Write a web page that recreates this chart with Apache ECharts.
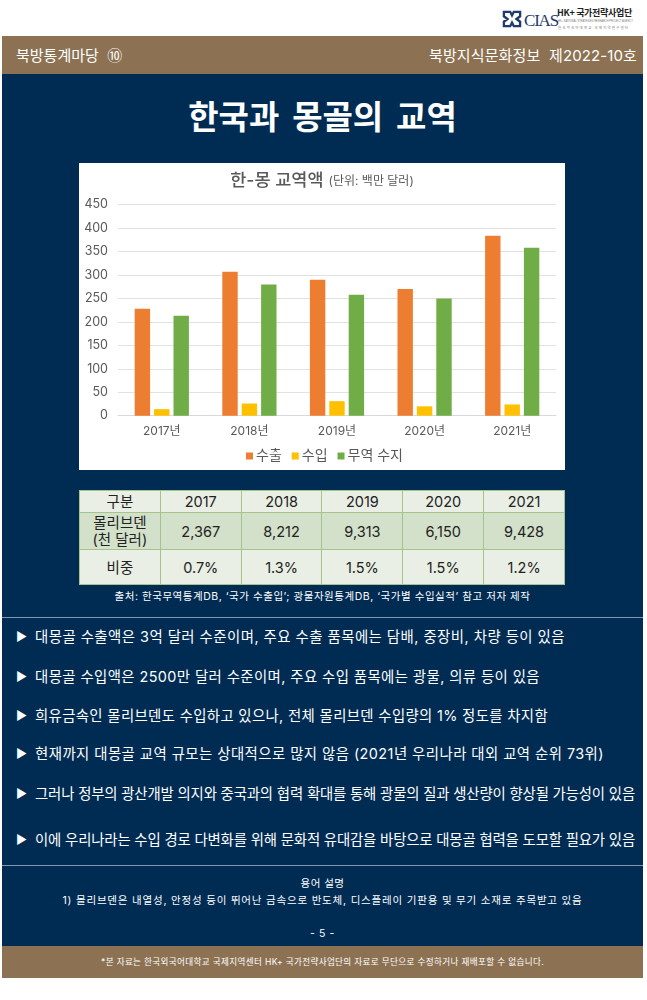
<!DOCTYPE html>
<html>
<head>
<meta charset="utf-8">
<script src="https://cdn.jsdelivr.net/npm/echarts@6/dist/echarts.min.js"></script>
<style>
html, body { margin: 0; padding: 0; background: #fff; }
body { width: 647px; height: 1000px; position: relative; overflow: hidden; font-family: Inter, "Noto Sans CJK KR", sans-serif; }
.abs { position: absolute; white-space: nowrap; }
.center { left: 0; width: 645px; text-align: center; color: #fff; }
.band { position: absolute; left: 2px; width: 641px; background: #8c7253; }
#navy { position: absolute; left: 2px; top: 74px; width: 641px; height: 872px; background: #002c54; }
.rule { position: absolute; left: 2px; width: 641px; height: 1px; background: #7f98ad; }
.point { position: absolute; left: 35px; white-space: nowrap; color: #fff; font-size: 14.4px; line-height: 20px; }
.arrow { position: absolute; left: 16px; color: #fff; font-size: 12px; line-height: 20px; }
#chart { position: absolute; left: 79px; top: 163px; width: 486px; height: 307px; }
#tbl { position: absolute; left: 79px; top: 490px; width: 486px; height: 94px; border-collapse: collapse; table-layout: fixed; font-size: 14.5px; color: #222; text-align: center; }
#tbl td { border: 1.5px solid #a5c48c; padding: 0; line-height: 17px; background: #e9efe5; }
#tbl tr.mid td { background: #d3e0ca; }
</style>
</head>
<body>
<svg class="abs" style="left:502px;top:10px" width="20" height="18" viewBox="0 0 22 20">
  <path d="M2 2h7l2 4 2-4h7v5l-4 3 4 3v5h-7l-2-4-2 4H2v-5l4-3-4-3z" fill="none" stroke="#1f3a6e" stroke-width="2.6"/>
</svg>
<div class="abs" style="left:524px;top:12px;font:17px/18px 'Liberation Serif';letter-spacing:-1.2px;color:#1f3a6e">CIAS</div>
<div class="abs" style="left:557px;top:7px;font:bold 9px/12px 'Noto Sans CJK KR';letter-spacing:-.3px;color:#222">HK+ 국가전략사업단</div>
<div class="abs" style="left:558px;top:20px;font:2.6px/4px 'Liberation Sans';color:#777">HK+ NATIONAL STRATEGIES RESEARCH PROJECT AGENCY</div>
<div class="abs" style="left:558px;top:25px;font:3.4px/5px 'Noto Sans CJK KR';letter-spacing:1.2px;color:#777">한국외국어대학교 국제지역연구센터</div>

<div class="band" style="top:36px;height:38px"></div>
<div class="abs" style="left:16px;top:45px;font-size:15px;line-height:22px;color:#fff">북방통계마당 &nbsp;⑩</div>
<div class="abs" style="right:10px;top:45px;font-size:15px;line-height:22px;color:#fff" data-w="208">북방지식문화정보 &nbsp;제2022-10호</div>

<div id="navy"></div>
<div class="abs center" style="top:94px;font-size:33px;line-height:46px;font-weight:700;word-spacing:5px">한국과 몽골의 교역</div>

<div id="chart"></div>
<table id="tbl"></table>
<div class="abs center" style="top:588px;font-size:10.5px;line-height:18px" data-w="416">출처: 한국무역통계DB, ‘국가 수출입’; 광물자원통계DB, ‘국가별 수입실적’ 참고 저자 제작</div>

<div class="rule" style="top:617px"></div>
<div id="points"></div>
<div class="rule" style="top:865px"></div>

<div class="abs center" style="top:875px;font-size:10.5px;line-height:18px" data-w="44">용어 설명</div>
<div class="abs center" style="top:892px;font-size:10.5px;line-height:18px" data-w="520">1) 몰리브덴은 내열성, 안정성 등이 뛰어난 금속으로 반도체, 디스플레이 기판용 및 무기 소재로 주목받고 있음</div>
<div class="abs center" style="top:925px;font-size:10.5px;line-height:18px" data-w="25">- 5 -</div>

<div class="band" style="top:946px;height:32px"></div>
<div class="abs center" style="top:953px;font-size:8.6px;line-height:18px" data-w="443">*본 자료는 한국외국어대학교 국제지역센터 HK+ 국가전략사업단의 자료로 무단으로 수정하거나 재배포할 수 없습니다.</div>

<script>
// 차트 데이터
const years = ['2017년', '2018년', '2019년', '2020년', '2021년'];
const exportsKr = [228, 307, 290, 270, 384];
const importsKr = [14, 26, 31, 20, 24];
const balance = [213, 280, 258, 250, 358];

// 표 데이터
const tableHead = ['구분', '2017', '2018', '2019', '2020', '2021'];
const moly = ['몰리브덴<br>(천 달러)', '2,367', '8,212', '9,313', '6,150', '9,428'];
const share = ['비중', '0.7%', '1.3%', '1.5%', '1.5%', '1.2%'];

const points = [
  '대몽골 수출액은 3억 달러 수준이며, 주요 수출 품목에는 담배, 중장비, 차량 등이 있음',
  '대몽골 수입액은 2500만 달러 수준이며, 주요 수입 품목에는 광물, 의류 등이 있음',
  '희유금속인 몰리브덴도 수입하고 있으나, 전체 몰리브덴 수입량의 1% 정도를 차지함',
  '현재까지 대몽골 교역 규모는 상대적으로 많지 않음 (2021년 우리나라 대외 교역 순위 73위)',
  '그러나 정부의 광산개발 의지와 중국과의 협력 확대를 통해 광물의 질과 생산량이 향상될 가능성이 있음',
  '이에 우리나라는 수입 경로 다변화를 위해 문화적 유대감을 바탕으로 대몽골 협력을 도모할 필요가 있음'
];
const pointTops = [627, 667, 706, 744, 784, 830];
const pointWidths = [530, 505, 513, 569, 600, 600];

document.getElementById('tbl').innerHTML = [tableHead, moly, share].map(function (row, i) {
  return '<tr class="' + (i === 1 ? 'mid' : '') + '">' + row.map(function (c) { return '<td>' + c + '</td>'; }).join('') + '</tr>';
}).join('');
var rows = document.querySelectorAll('#tbl tr');
rows[0].style.height = '22px'; rows[1].style.height = '37px'; rows[2].style.height = '35px';

document.getElementById('points').innerHTML = points.map(function (p, i) {
  return '<div class="arrow" style="top:' + pointTops[i] + 'px">▶</div>' +
    '<div class="point" style="top:' + pointTops[i] + 'px" data-w="' + pointWidths[i] + '">' + p + '</div>';
}).join('');

// 글자 간격으로 원본 폭에 맞춤
document.querySelectorAll('[data-w]').forEach(function (el) {
  var range = document.createRange();
  range.selectNodeContents(el);
  var w = range.getBoundingClientRect().width;
  el.style.letterSpacing = ((+el.dataset.w - w) / el.textContent.length) + 'px';
});

const font = 'Inter, "Noto Sans CJK KR", sans-serif';
let chart = echarts.init(document.getElementById('chart'));
chart.setOption({
  backgroundColor: '#fff',
  animation: false,
  color: ['#ed7d31', '#ffc000', '#70ad47'],
  textStyle: { fontFamily: font },
  title: {
    text: '{a|한-몽 교역액} {b|(단위: 백만 달러)}',
    left: 'center',
    top: 4,
    textStyle: {
      fontWeight: 'normal',
      rich: {
        a: { fontFamily: font, fontSize: 17.5, fontWeight: 500, color: '#595959' },
        b: { fontFamily: font, fontSize: 12, fontWeight: 'normal', color: '#595959' }
      }
    }
  },
  legend: {
    bottom: 2,
    left: 162,
    icon: 'rect',
    itemWidth: 7,
    itemHeight: 7,
    itemGap: 10,
    textStyle: { fontFamily: font, fontSize: 14, color: '#595959', padding: [0, 0, 0, -2] }
  },
  grid: { left: 39, right: 9, top: 41.7, height: 211 },
  xAxis: {
    type: 'category',
    data: years,
    axisTick: { show: false },
    axisLine: { lineStyle: { color: '#d9d9d9' } },
    axisLabel: { fontFamily: font, fontSize: 12, color: '#595959', margin: 10 }
  },
  yAxis: {
    type: 'value',
    min: 0,
    max: 450,
    interval: 50,
    axisLine: { show: false },
    axisTick: { show: false },
    splitLine: { lineStyle: { color: '#e2e2e2' } },
    axisLabel: { fontFamily: font, fontSize: 12.5, color: '#595959', margin: 10 }
  },
  series: [
    { name: '수출', type: 'bar', data: exportsKr, barWidth: 15.4, barGap: '26%' },
    { name: '수입', type: 'bar', data: importsKr, barWidth: 15.4 },
    { name: '무역 수지', type: 'bar', data: balance, barWidth: 15.4 }
  ]
});
window.addEventListener('resize', function () {
  chart.resize();
});
</script>
</body>
</html>
